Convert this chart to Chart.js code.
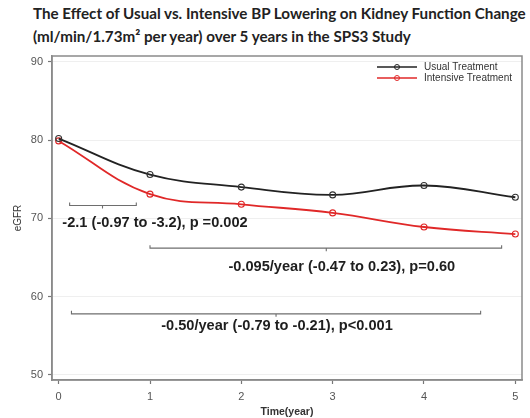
<!DOCTYPE html>
<html>
<head>
<meta charset="utf-8">
<script src="https://cdn.jsdelivr.net/npm/chart.js@4.4.1/dist/chart.umd.min.js"></script>
<style>
  html, body { margin: 0; padding: 0; background: #fff; }
  #wrap { position: relative; width: 530px; height: 418px; }
  #title {
    position: absolute; left: 33px; top: 2px;
    font-family: Lato, "Open Sans", sans-serif; font-weight: bold;
    font-size: 15.2px; line-height: 23px; color: #222; white-space: nowrap;
  }
  canvas { position: absolute; left: 0; top: 0; }
</style>
</head>
<body>
<div id="wrap">
  <div id="title">The Effect of Usual vs. Intensive BP Lowering on Kidney Function Change<br>(ml/min/1.73m² per year) over 5 years in the SPS3 Study</div>
  <canvas id="chart" width="530" height="418"></canvas>
</div>
<script>
// years of follow-up
const years = [0, 1, 2, 3, 4, 5];
// eGFR
const usualEgfr = [80.2, 75.6, 74.0, 73.0, 74.2, 72.7];
const intensiveEgfr = [79.9, 73.1, 71.8, 70.7, 68.9, 68.0];
const seriesNames = ['Usual Treatment', 'Intensive Treatment'];
const yTicks = [50, 60, 70, 80, 90];
const xTicks = [0, 1, 2, 3, 4, 5];
const effectLabels = [
  '-2.1 (-0.97 to -3.2), p =0.002',
  '-0.095/year (-0.47 to 0.23), p=0.60',
  '-0.50/year (-0.79 to -0.21), p<0.001'
];

// bracket placement in data units: x from/to, middle tick, y level, text x/y
const brackets = [
  { x0: 0.12, x1: 0.85, mid: 0.48, y: 71.65, tx: 0.04, ty: 69.4, align: 'left' },
  { x0: 1.0, x1: 4.85, mid: 2.93, y: 66.2, tx: 3.1, ty: 63.8, align: 'center' },
  { x0: 0.14, x1: 4.62, mid: 2.38, y: 57.8, tx: 2.39, ty: 56.2, align: 'center' }
];

const toPoints = vals => years.map((x, i) => ({ x: x, y: vals[i] }));

const boxPlugin = {
  id: 'boxAndNotes',
  beforeDatasetsDraw(chart) {
    const ctx = chart.ctx, xs = chart.scales.x, ys = chart.scales.y;
    ctx.save();
    ctx.strokeStyle = '#6e6e6e';
    ctx.lineWidth = 1.1;
    brackets.forEach((b, i) => {
      const a = xs.getPixelForValue(b.x0), c = xs.getPixelForValue(b.x1);
      const m = xs.getPixelForValue(b.mid), y = ys.getPixelForValue(b.y);
      ctx.beginPath();
      ctx.moveTo(a, y - 3); ctx.lineTo(a, y); ctx.lineTo(c, y); ctx.lineTo(c, y - 3);
      ctx.moveTo(m, y); ctx.lineTo(m, y + 3);
      ctx.stroke();
      ctx.fillStyle = '#1e1e1e';
      ctx.font = 'bold 14.6px "Liberation Sans", Arial, sans-serif';
      ctx.textAlign = b.align;
      ctx.textBaseline = 'middle';
      ctx.fillText(effectLabels[i], xs.getPixelForValue(b.tx), ys.getPixelForValue(b.ty));
    });
    ctx.restore();
  },
  afterDraw(chart) {
    const ctx = chart.ctx, area = chart.chartArea;
    ctx.save();
    ctx.strokeStyle = '#8a8a8a';
    ctx.lineWidth = 1.5;
    ctx.strokeRect(area.left, area.top, area.right - area.left, area.bottom - area.top);
    // legend
    const colors = ['#222222', '#e02828'];
    ctx.font = '10px "Liberation Sans", Arial, sans-serif';
    ctx.textBaseline = 'middle';
    seriesNames.forEach((name, i) => {
      const y = 67 + i * 11;
      ctx.strokeStyle = colors[i];
      ctx.lineWidth = 1.6;
      ctx.beginPath(); ctx.moveTo(377, y); ctx.lineTo(417, y); ctx.stroke();
      ctx.lineWidth = 1;
      ctx.beginPath(); ctx.arc(397, y, 2.5, 0, Math.PI * 2); ctx.stroke();
      ctx.fillStyle = '#333';
      ctx.textAlign = 'left';
      ctx.fillText(name, 424, y);
    });
    ctx.restore();
  }
};

new Chart(document.getElementById('chart'), {
  type: 'line',
  data: {
    datasets: [{
      label: seriesNames[0],
      data: toPoints(usualEgfr),
      borderColor: '#222222',
      borderWidth: 1.8,
      pointRadius: 3,
      pointBorderWidth: 1.1,
      pointBackgroundColor: 'rgba(0,0,0,0)',
      pointBorderColor: '#333',
      tension: 0.4
    }, {
      label: seriesNames[1],
      data: toPoints(intensiveEgfr),
      borderColor: '#e02828',
      borderWidth: 1.8,
      pointRadius: 3,
      pointBorderWidth: 1.1,
      pointBackgroundColor: 'rgba(0,0,0,0)',
      pointBorderColor: '#e02828',
      tension: 0.4
    }]
  },
  options: {
    responsive: false,
    animation: false,
    layout: { padding: { top: 56, right: 8, left: 0, bottom: 0 } },
    plugins: { legend: { display: false }, tooltip: { enabled: false } },
    scales: {
      x: {
        type: 'linear',
        min: -0.073, max: 5.073,
        afterBuildTicks: s => { s.ticks = xTicks.map(v => ({ value: v })); },
        afterFit: s => { s.height = 38; },
        grid: { drawOnChartArea: false, tickLength: 4, tickColor: '#777', tickWidth: 1.2 },
        border: { color: '#8a8a8a', width: 1.5 },
        ticks: { color: '#555', font: { size: 11, family: '"Liberation Sans", Arial' }, padding: 6, maxRotation: 0 },
        title: { display: true, text: 'Time(year)', color: '#333', font: { size: 10.5, weight: 'bold', family: '"Liberation Sans", Arial' }, padding: { top: 2, bottom: 0 } }
      },
      y: {
        min: 49.35, max: 90.75,
        afterBuildTicks: s => { s.ticks = yTicks.map(v => ({ value: v })); },
        afterFit: s => { s.width = 52; },
        grid: { color: '#efefef', tickLength: 4, tickColor: '#777', tickWidth: 1.2 },
        border: { color: '#8a8a8a', width: 1.5 },
        ticks: { color: '#555', font: { size: 11, family: '"Liberation Sans", Arial' }, padding: 5 },
        title: { display: true, text: 'eGFR', color: '#333', font: { size: 10, family: '"Liberation Sans", Arial' }, padding: { top: 12, bottom: 0 } }
      }
    }
  },
  plugins: [boxPlugin]
});
</script>
</body>
</html>
